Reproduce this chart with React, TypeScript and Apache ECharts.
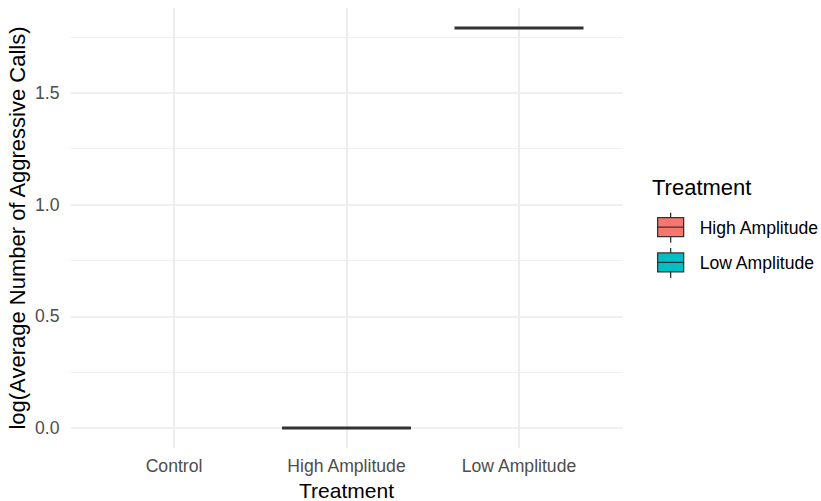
import React, { useEffect, useRef } from "react";
import * as echarts from "echarts";

const categories = ["Control", "High Amplitude", "Low Amplitude"];
const seriesNames = ["High Amplitude", "Low Amplitude"];
const seriesColors = ["#F8766D", "#00BFC4"];
// [min, Q1, median, Q3, max] per category ('-' = no data)
const highAmplitudeBoxes: any[] = ["-", [0, 0, 0, 0, 0], "-"];
const lowAmplitudeBoxes: any[] = ["-", "-", [1.79, 1.79, 1.79, 1.79, 1.79]];
const yMin = -0.0895;
const yMax = 1.8795;

const FONT = "Liberation Sans, Arial, Helvetica, sans-serif";
const ICON =
  "path://M14,0L14,5M1,5L27,5L27,24L1,24ZM1,14.5L27,14.5M14,24L14,30";

export default function App() {
  const ref = useRef<HTMLDivElement>(null);
  useEffect(() => {
    if (!ref.current) return;
    const chart = echarts.init(ref.current, undefined, { renderer: "svg" });
    const hiddenY = {
      type: "value",
      gridIndex: 1,
      min: yMin,
      max: yMax,
      show: false,
      splitLine: { show: false },
    };
    chart.setOption({
      animation: false,
      backgroundColor: "#ffffff",
      grid: [
        { left: 70.5, right: 198.5, top: 8, bottom: 53, containLabel: false, outerBoundsMode: "none" },
        { left: 87.75, right: 215.75, top: 8, bottom: 53, containLabel: false, outerBoundsMode: "none" },
      ],
      title: {
        text: "Treatment",
        left: 647,
        top: 171,
        textStyle: { fontFamily: FONT, fontSize: 22, fontWeight: "normal", color: "#000000" },
      },
      legend: {
        orient: "vertical",
        left: 652,
        top: 207,
        itemWidth: 28,
        itemHeight: 30,
        itemGap: 4,
        icon: ICON,
        textStyle: { fontFamily: FONT, fontSize: 17.6, color: "#000000", padding: [0, 0, 0, 10] },
        data: seriesNames.map((n, i) => ({
          name: n,
          icon: ICON,
          itemStyle: { color: seriesColors[i], borderColor: "#333333", borderWidth: 1.3 },
        })),
      },
      xAxis: [
        {
          type: "category",
          gridIndex: 1,
          data: categories,
          name: "Treatment",
          nameLocation: "middle",
          nameGap: 29,
          nameTextStyle: { fontFamily: FONT, fontSize: 21, color: "#000000", lineHeight: 21 },
          axisLine: { show: false },
          axisTick: { show: false },
          splitLine: { show: false },
          axisLabel: { fontFamily: FONT, fontSize: 17.6, color: "#4D4D4D", margin: 9 },
        },
        {
          type: "category",
          gridIndex: 1,
          data: categories,
          show: false,
          splitLine: { show: false },
        },
        {
          type: "category",
          gridIndex: 0,
          data: categories,
          show: false,
          splitLine: { show: false },
        },
      ],
      yAxis: [
        {
          type: "value",
          gridIndex: 0,
          min: yMin,
          max: yMax,
          splitNumber: 4,
          name: "log(Average Number of Aggressive Calls)",
          nameLocation: "middle",
          nameGap: 42,
          nameMoveOverlap: false,
          nameTextStyle: { fontFamily: FONT, fontSize: 22, color: "#000000" },
          axisLine: { show: false },
          axisTick: { show: false },
          minorTick: { show: false, splitNumber: 2 },
          axisLabel: {
            fontFamily: FONT,
            fontSize: 17.6,
            color: "#4D4D4D",
            margin: 11,
            showMinLabel: false,
            showMaxLabel: false,
            formatter: (v: number) => v.toFixed(1),
          },
          splitLine: {
            show: true,
            showMinLine: false,
            showMaxLine: false,
            lineStyle: { color: "#EBEBEB", width: 1.6 },
          },
          minorSplitLine: {
            show: true,
            lineStyle: { color: "#F0F0F0", width: 1 },
          },
        },
        hiddenY,
      ],
      series: [
        {
          name: seriesNames[0],
          type: "boxplot",
          xAxisIndex: 0,
          yAxisIndex: 1,
          data: highAmplitudeBoxes,
          boxWidth: [129, 129],
          itemStyle: { color: seriesColors[0], borderColor: "#333333", borderWidth: 3 },
          markLine: {
            silent: true,
            symbol: "none",
            z: 0,
            label: { show: false },
            lineStyle: { color: "#EBEBEB", width: 1.8, type: "solid" },
            data: categories.map((c) => ({ xAxis: c })),
          },
        },
        {
          name: seriesNames[1],
          type: "boxplot",
          xAxisIndex: 1,
          yAxisIndex: 1,
          data: lowAmplitudeBoxes,
          boxWidth: [129, 129],
          itemStyle: { color: seriesColors[1], borderColor: "#333333", borderWidth: 3 },
        },
      ],
    });
    return () => chart.dispose();
  }, []);
  return <div ref={ref} style={{ width: 821, height: 501, position: "absolute", left: 0, top: 0 }} />;
}
